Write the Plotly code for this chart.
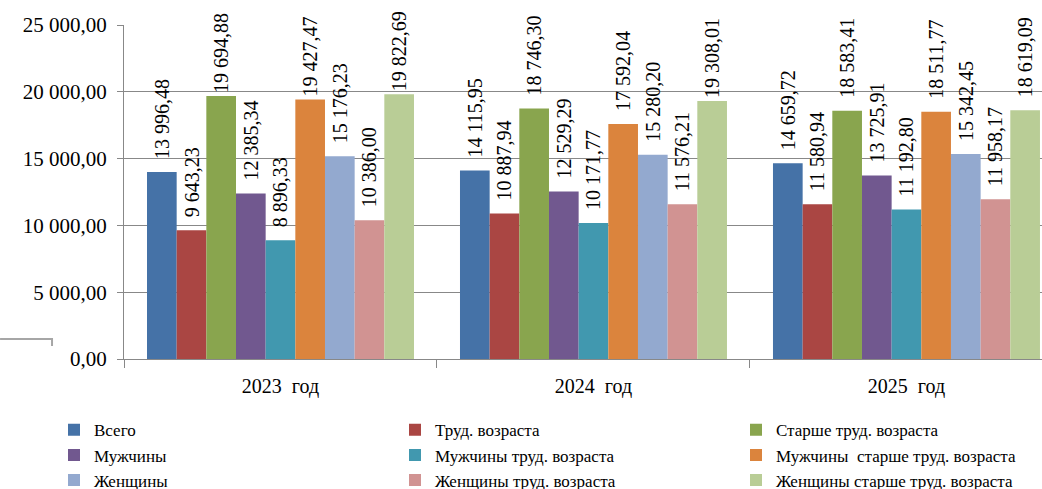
import plotly.graph_objects as go

categories = ["2023  год", "2024  год", "2025  год"]
series_names = ["Всего", "Труд. возраста", "Старше труд. возраста",
                "Мужчины", "Мужчины труд. возраста", "Мужчины  старше труд. возраста",
                "Женщины", "Женщины труд. возраста", "Женщины старше труд. возраста"]
vsego = [13996.48, 14115.95, 14659.72]
trud = [9643.23, 10887.94, 11580.94]
starshe = [19694.88, 18746.30, 18583.41]
muzh = [12385.34, 12529.29, 13725.91]
muzh_trud = [8896.33, 10171.77, 11192.80]
muzh_starshe = [19427.47, 17592.04, 18511.77]
zhen = [15176.23, 15280.20, 15342.45]
zhen_trud = [10386.00, 11576.21, 11958.17]
zhen_starshe = [19822.69, 19308.01, 18619.09]
y_ticks = [0, 5000, 10000, 15000, 20000, 25000]

series_values = [vsego, trud, starshe, muzh, muzh_trud, muzh_starshe, zhen, zhen_trud, zhen_starshe]
colors = ["#4572A7", "#AA4643", "#89A54E", "#71588F", "#4198AF", "#DB843D",
          "#93A9CF", "#D19392", "#B9CD96"]
legend_ids = ["legend", "legend2", "legend3"]

FONT = "Liberation Serif"


def fmt(v):
    s = f"{v:,.2f}".replace(",", " ").replace(".", ",")
    # Excel leaves a small gap above the bar unless the label would leave the chart
    pad = "\u2007" if v < 19000 else ""
    return pad + s


fig = go.Figure()
for i, (name, vals, col) in enumerate(zip(series_names, series_values, colors)):
    fig.add_trace(go.Bar(
        x=categories, y=vals, name=name, marker_color=col,
        marker_line_width=0,
        text=[fmt(v) for v in vals], texttemplate="%{text}",
        textposition="outside", textangle=-90,
        textfont=dict(family=FONT, size=20, color="#000000"),
        constraintext="none", cliponaxis=False,
        legend=legend_ids[i % 3],
    ))

leg_common = dict(orientation="v", xref="container", yref="container",
                  y=0.157, xanchor="left", yanchor="top",
                  font=dict(family=FONT, size=17, color="#000000"),
                  traceorder="normal", itemclick=False, tracegroupgap=0,
                  bgcolor="rgba(0,0,0,0)")
col_x = [54, 395, 736]

fig.update_layout(
    width=1042, height=489,
    margin=dict(l=124, r=0, t=25, b=130, autoexpand=False),
    paper_bgcolor="white", plot_bgcolor="white",
    separators=", ",
    barmode="group", bargap=0.147, bargroupgap=0,
    font=dict(family=FONT, color="#000000"),
    showlegend=True,
    legend=dict(x=col_x[0] / 1042, **leg_common),
    legend2=dict(x=col_x[1] / 1042, **leg_common),
    legend3=dict(x=col_x[2] / 1042, **leg_common),
    xaxis=dict(range=[-0.5, 2.433], showline=True, linecolor="#888888", linewidth=1,
               ticks="outside", tickson="boundaries", ticklen=8, tickcolor="#888888",
               tickfont=dict(family=FONT, size=20), showgrid=False,
               ticklabelstandoff=9, automargin=False, tickangle=0),
    yaxis=dict(range=[0, 25000], tickvals=y_ticks, tickformat=",.2f",
               showline=True, linecolor="#888888", linewidth=1,
               ticks="outside", ticklen=6, tickcolor="#888888",
               showgrid=True, gridcolor="#888888", gridwidth=1,
               tickfont=dict(family=FONT, size=21), zeroline=False,
               ticklabelstandoff=6, automargin=False),
)

# stray line at left edge of the original picture
fig.add_shape(type="path", xref="paper", yref="paper",
              path="M -0.135 0.0599 L -0.0784 0.0599 L -0.0784 0.0389",
              line=dict(color="#a6a6a6", width=2))

fig.write_html("out.html")
